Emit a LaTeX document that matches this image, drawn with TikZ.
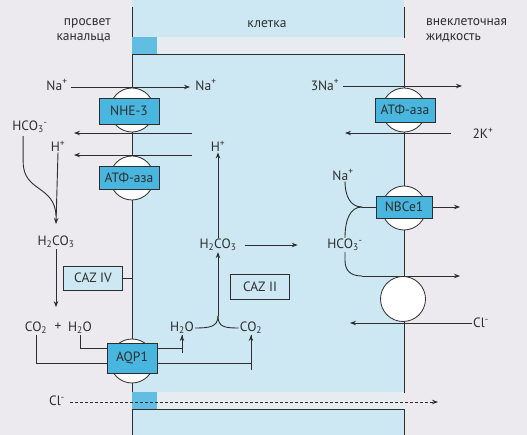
\documentclass[tikz,border=0pt]{standalone}
\usepackage{fontspec}
\setmainfont{PT Sans}
\usetikzlibrary{arrows.meta}
\definecolor{bgcol}{HTML}{ECE9EF}
\definecolor{cellblue}{HTML}{CDE8F3}
\definecolor{boxblue}{HTML}{48B6DE}
\definecolor{juncblue}{HTML}{62BDE3}
\definecolor{gapcol}{HTML}{E6ECF0}
\definecolor{inkcol}{HTML}{2E2E2E}
\begin{document}
\begin{tikzpicture}[x=1pt,y=-1pt,
  lbl/.style={font=\fontsize{13.5}{15}\selectfont, text=inkcol, inner sep=1pt},
  ln/.style={draw=inkcol, line width=0.9pt},
  arr/.style={ln, -{Stealth[length=6pt,width=4.5pt]}},
  memb/.style={draw=inkcol, line width=0.9pt},
  trbox/.style={draw=inkcol, fill=boxblue, line width=0.8pt, inner sep=0pt, font=\fontsize{13.5}{15}\selectfont, text=inkcol},
  enzbox/.style={draw=inkcol, fill=cellblue, line width=0.8pt, inner sep=0pt, minimum width=59pt, minimum height=24pt, font=\fontsize{13.5}{15}\selectfont, text=inkcol},
  pore/.style={circle, draw=inkcol, fill=white, line width=0.8pt, inner sep=0pt, minimum size=44pt}
]
\useasboundingbox (0,0) rectangle (527,435);
% background
\fill[bgcol] (0,0) rectangle (527,435);
% top cell
\fill[cellblue] (132,0) rectangle (404,37);
\draw[memb] (132,7) -- (132,37) -- (404,37) -- (404,7);
% top gap
\fill[gapcol] (132,37) rectangle (404,54);
\fill[juncblue] (132,37) rectangle (157,54);
% main cell
\fill[cellblue] (132,54) rectangle (404,392);
\draw[memb] (132,54) rectangle (404,392);
% bottom gap
\fill[gapcol] (132,392) rectangle (404,409);
\fill[juncblue] (132,392) rectangle (157,409);
% bottom cell
\fill[cellblue] (132,409) rectangle (404,435);
\draw[memb] (132,435) -- (132,409) -- (404,409) -- (404,435);

% headers
\node[lbl, align=right, anchor=east] (lumen) at (112,30) {просвет\\канальца};
\node[lbl] (cell) at (267,24) {клетка};
\node[lbl, align=left, anchor=west] (ecf) at (425,30) {внеклеточная\\жидкость};

% labels
\node[lbl] (naL) at (57,85) {Na\textsuperscript{+}};
\node[lbl] (naR) at (206,85) {Na\textsuperscript{+}};
\node[lbl] (hco3L) at (30,127) {HCO\textsubscript{3}\textsuperscript{-}};
\node[lbl] (hL) at (58,146) {H\textsuperscript{+}};
\node[lbl] (hM) at (218,146) {H\textsuperscript{+}};
\node[lbl] (h2co3L) at (56,242) {H\textsubscript{2}CO\textsubscript{3}};
\node[lbl] (co2L) at (36,328) {CO\textsubscript{2}};
\node[lbl] (plus) at (58,327) {+};
\node[lbl] (h2oL) at (80,328) {H\textsubscript{2}O};
\node[lbl] (h2oR) at (182,328) {H\textsubscript{2}O};
\node[lbl] (co2R) at (251,328) {CO\textsubscript{2}};
\node[lbl] (h2co3M) at (218,245) {H\textsubscript{2}CO\textsubscript{3}};
\node[lbl] (hco3R) at (345,245) {HCO\textsubscript{3}\textsuperscript{-}};
\node[lbl] (naM) at (343,175) {Na\textsuperscript{+}};
\node[lbl] (na3) at (325,85) {3Na\textsuperscript{+}};
\node[lbl] (k2) at (483,133) {2K\textsuperscript{+}};
\node[lbl] (clR) at (481,323) {Cl\textsuperscript{-}};
\node[lbl] (clL) at (57,401) {Cl\textsuperscript{-}};

% free-end coordinates
\coordinate (naEnd) at (190,87);
\coordinate (h1a) at (192,133); \coordinate (h1b) at (74,133);
\coordinate (h2a) at (192,155); \coordinate (h2b) at (74,155);
\coordinate (mergeL) at (56,224);
\coordinate (yjoin) at (218,316);
\coordinate (nbjoin) at (362,207);
\coordinate (nbout) at (460,207);
\coordinate (exout) at (460,276);
\coordinate (clEnd) at (350,323);
\coordinate (na3End) at (462,86);
\coordinate (k2End) at (345,133);
\coordinate (clDashEnd) at (438,402);

% connectors (drawn below transporters)
\draw[arr] (naL.east) ++(2,2) -- (naEnd);
\draw[arr] (h1a) -- (h1b);
\draw[arr] (h2a) -- (h2b);
\draw[ln] (hco3L.south west) ++(12,2) -- ++(0,26) .. controls +(0,30) and (55,185) .. (56,216);
\draw[arr] (hL.south) -- (mergeL);
\draw[arr] (h2co3L.south) -- ++(0,58);
\draw[ln] (co2L.south) -- ++(0,28) -| (co2R.south) ;
\draw[arr] (251,370) -- (co2R.south);
\draw[ln] (h2oL.south) -- ++(0,13) -| (h2oR.south);
\draw[arr] (182,353) -- (h2oR.south);
\draw[ln] (h2oR.east) .. controls +(14,0) and (218,327) .. (yjoin);
\draw[ln] (co2R.west) .. controls +(-14,0) and (218,327) .. (yjoin);
\draw[arr] (yjoin) -- (h2co3M.south);
\draw[arr] (h2co3M.north) -- (hM.south);
\draw[arr] (h2co3M.east) ++(7,0) -- ++(53,0);
\draw[ln] (naM.south) ++(2,0) .. controls +(0,14) and (350,207) .. (nbjoin);
\draw[ln] (hco3R.north) .. controls +(0,-18) and (350,207) .. (nbjoin);
\draw[arr] (nbjoin) -- (nbout);
\draw[ln] (hco3R.south) -- ++(0,8) .. controls +(0,10) and (350,276) .. (362,276);
\draw[arr] (362,276) -- (exout);
\draw[arr] (clR.west) -- (clEnd);
\draw[arr] (na3.east) ++(3,1) -- (na3End);
\draw[arr] (k2.west) ++(-20,0) -- (k2End);
\draw[arr, dashed, dash pattern=on 3pt off 2pt] (clL.east) ++(4,1) -- (clDashEnd);

% enzymes
\node[enzbox] (caz4) at (93,278) {CAZ IV};
\draw[ln] (caz4.east) -- (132,278);
\node[enzbox, minimum height=25pt] (caz2) at (260,287) {CAZ II};

% transporters
\node[pore] (nhePore) at (132,110) {};
\node[trbox, minimum width=60pt, minimum height=26pt] (nhe) at (129,111) {NHE-3};
\node[pore] (atpLPore) at (132,178) {};
\node[trbox, minimum width=60pt, minimum height=23pt] (atpL) at (129,178) {АТФ-аза};
\node[pore] (aqpPore) at (132,361) {};
\node[trbox, minimum width=50pt, minimum height=30pt] (aqp) at (132,358) {AQP1};
\node[pore] (atpRPore) at (404,110) {};
\node[trbox, minimum width=60pt, minimum height=24pt] (atpR) at (405,110) {АТФ-аза};
\node[pore] (nbcPore) at (404,208) {};
\node[trbox, minimum width=56pt, minimum height=22pt] (nbc) at (404,207) {NBCe1};
\node[pore, minimum size=45pt] (exch) at (403,299) {};
\end{tikzpicture}
\end{document}
